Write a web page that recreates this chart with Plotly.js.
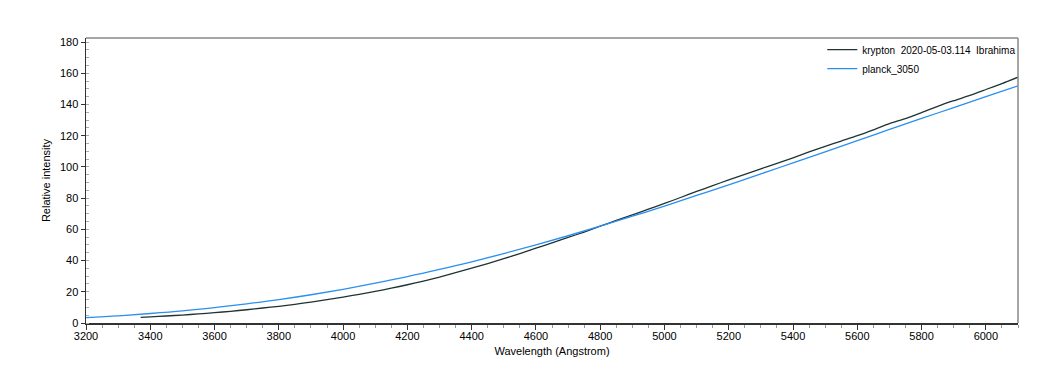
<!DOCTYPE html>
<html>
<head>
<meta charset="utf-8">
<script src="https://cdn.plot.ly/plotly-3.0.1.min.js"></script>
<style>html,body{margin:0;padding:0;background:#fff;}#chart{width:1050px;height:375px;}</style>
</head>
<body>
<div id="chart"></div>
<script>
// krypton spectrum (Angstrom, relative intensity)
const kryptonWl = [3370,3400,3450,3500,3550,3600,3650,3700,3750,3800,3850,3900,3950,4000,4050,4100,4150,4200,4250,4300,4350,4400,4450,4500,4550,4600,4650,4700,4750,4800,4850,4900,4950,5000,5050,5100,5150,5200,5250,5300,5350,5400,5450,5500,5550,5600,5650,5700,5750,5800,5850,5900,5950,6000,6050,6100];
const kryptonI = [3.6,3.9,4.5,5.1,5.8,6.6,7.5,8.5,9.6,10.7,12.0,13.4,15.0,16.6,18.4,20.3,22.3,24.5,26.9,29.4,32.2,35.1,38.1,41.2,44.5,47.9,51.3,54.8,58.3,62.0,65.7,69.3,72.9,76.6,80.4,84.3,88.0,91.7,95.2,98.8,102.2,105.8,109.6,113.2,116.6,120.0,123.8,127.8,131.0,134.8,138.8,142.4,145.8,149.6,153.4,157.5];
// planck_3050 reference curve
const planckWl = [3200,3300,3400,3500,3600,3700,3800,3900,4000,4100,4200,4300,4400,4500,4600,4700,4800,4900,5000,5100,5200,5300,5400,5500,5600,5700,5800,5900,6000,6100];
const planckI = [3.5,4.6,6.1,7.8,9.9,12.3,15.0,18.1,21.6,25.5,29.7,34.3,39.2,44.5,50.1,55.9,62.0,68.4,74.9,81.7,88.5,95.5,102.6,109.7,116.8,124.0,131.1,138.0,145.1,152.0];
const seriesNames = ["krypton  2020-05-03.114  Ibrahima", "planck_3050"];

const font = {family: "Liberation Sans, Arial, sans-serif", size: 11, color: "#000"};
const traces = [
  {x: kryptonWl, y: kryptonI, type: "scatter", mode: "lines", name: seriesNames[0],
   line: {color: "#1f3333", width: 1.3, shape: "spline", smoothing: 0.6}},
  {x: planckWl, y: planckI, type: "scatter", mode: "lines", name: seriesNames[1],
   line: {color: "#2a8ff0", width: 1.3, shape: "spline"}}
];
const layout = {
  width: 1050, height: 375,
  margin: {l: 86, r: 32, t: 38, b: 52, autoexpand: false},
  paper_bgcolor: "#fff", plot_bgcolor: "#fff",
  font: font,
  showlegend: true,
  legend: {x: 0.79, y: 1.01, xanchor: "left", yanchor: "top", bgcolor: "rgba(0,0,0,0)",
           font: {family: font.family, size: 10, color: "#000"}, tracegroupgap: 0, itemwidth: 30},
  xaxis: {
    range: [3200, 6100], dtick: 200, tick0: 3200, showgrid: false, zeroline: false,
    showline: true, linecolor: "#333", linewidth: 1.5,
    ticks: "outside", ticklen: 5, tickcolor: "#333", ticklabelstandoff: -3,
    minor: {dtick: 50, ticks: "outside", ticklen: 3, tickcolor: "#999", showgrid: false},
    tickfont: font,
    title: {text: "Wavelength (Angstrom)", font: font, standoff: 6}
  },
  yaxis: {
    range: [0, 182.6], dtick: 20, tick0: 0, showgrid: false, zeroline: false,
    showline: true, linecolor: "#333", linewidth: 1.5,
    ticks: "outside", ticklen: 4, tickcolor: "#333",
    minor: {dtick: 5, ticks: "inside", ticklen: 3, tickcolor: "#aaa", showgrid: false},
    tickfont: font,
    title: {text: "Relative intensity", font: font, standoff: 7}
  },
  shapes: [
    {type: "line", xref: "paper", yref: "paper", x0: 0, x1: 1, y0: 1, y1: 1, line: {color: "#888", width: 1.5}},
    {type: "line", xref: "paper", yref: "paper", x0: 1, x1: 1, y0: 0, y1: 1, line: {color: "#888", width: 1.5}}
  ]
};
Plotly.newPlot("chart", traces, layout, {displayModeBar: false, staticPlot: true});
</script>
</body>
</html>
